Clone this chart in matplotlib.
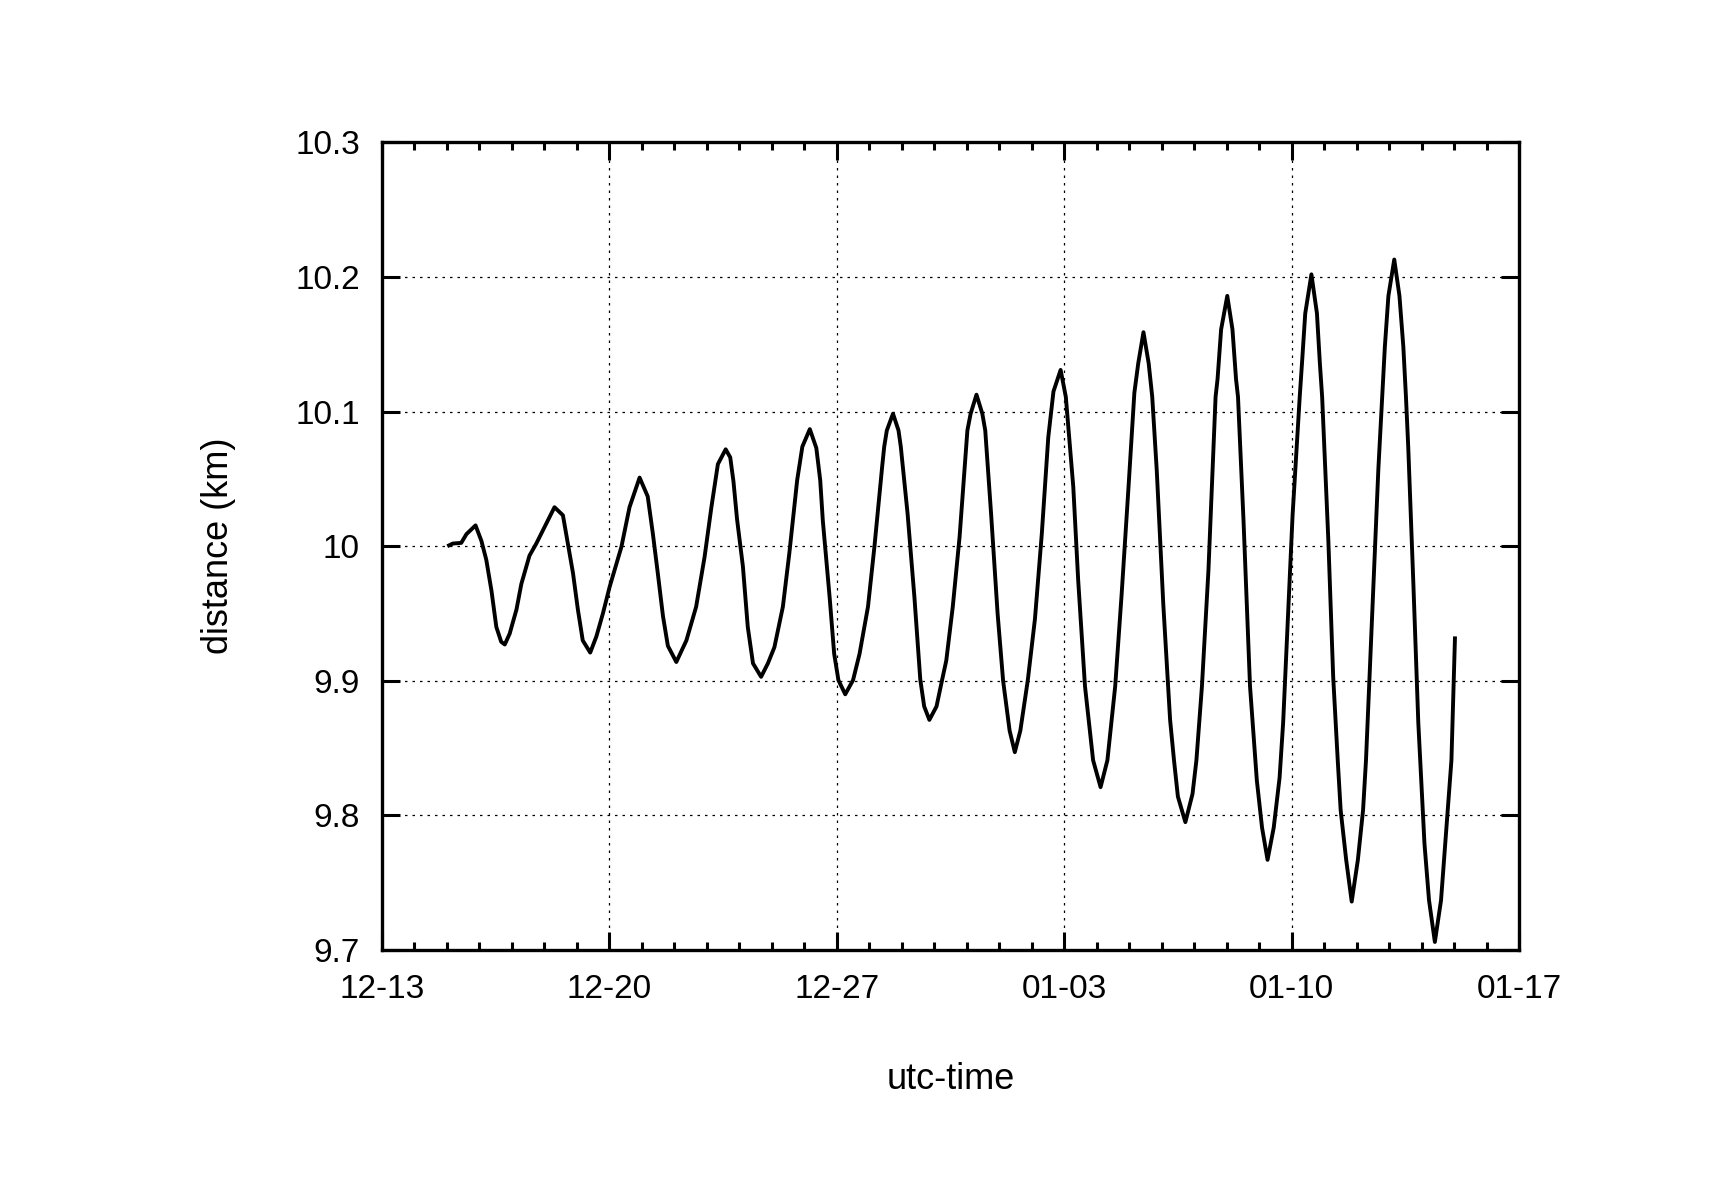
import matplotlib
matplotlib.use("Agg")
import matplotlib.pyplot as plt
import matplotlib.dates as mdates
from matplotlib.ticker import FuncFormatter
import pandas as pd

# time axis starts 12-13 00:00; values are day offsets from there
start_date = "2010-12-13"
day_offset = [
    2.01, 2.18, 2.44, 2.60, 2.88, 3.06, 3.21, 3.37, 3.52, 3.67, 3.78, 3.93,
    4.14, 4.29, 4.54, 4.75, 5.06, 5.31, 5.57, 5.72, 5.88, 6.03, 6.18, 6.41,
    6.60, 6.80, 7.01, 7.37, 7.62, 7.93, 8.18, 8.34, 8.49, 8.65, 8.80, 9.06,
    9.37, 9.67, 9.93, 10.14, 10.34, 10.58, 10.72, 10.82, 10.93, 11.11, 11.26,
    11.42, 11.67, 11.88, 12.08, 12.34, 12.54, 12.78, 12.94, 13.17, 13.37,
    13.49, 13.57, 13.78, 13.92, 14.05, 14.26, 14.50, 14.70, 14.96, 15.16,
    15.40, 15.46, 15.54, 15.73, 15.90, 15.97, 16.18, 16.39, 16.57, 16.69,
    16.85, 17.07, 17.24, 17.37, 17.57, 17.78, 18.02, 18.12, 18.30, 18.48,
    18.57, 18.75, 18.95, 19.12, 19.32, 19.48, 19.65, 19.88, 20.10, 20.31,
    20.51, 20.67, 20.89, 21.05, 21.28, 21.43, 21.64, 21.89, 22.12, 22.33,
    22.57, 22.77, 22.98, 23.16, 23.28, 23.44, 23.60, 23.71, 23.85, 24.05,
    24.26, 24.38, 24.50, 24.73, 24.95, 25.07, 25.24, 25.44, 25.66, 25.72,
    25.83, 26.02, 26.18, 26.29, 26.35, 26.52, 26.72, 26.93, 27.09, 27.26,
    27.45, 27.63, 27.74, 27.90, 28.03, 28.25, 28.32, 28.42, 28.61, 28.78,
    28.87, 28.94, 29.13, 29.28, 29.42, 29.51, 29.68, 29.85, 30.04, 30.20,
    30.29, 30.46, 30.67, 30.79, 30.87, 30.98, 31.16, 31.32, 31.44, 31.52,
    31.59, 31.75, 31.90, 32.09, 32.23, 32.41, 32.60, 32.73, 32.92, 33.03,
]
distance_km = [
    10.000, 10.002, 10.0025, 10.009, 10.0155, 10.004, 9.990, 9.967, 9.940, 9.929, 9.927, 9.935,
    9.953, 9.972, 9.993, 10.002, 10.017, 10.029, 10.023, 10.002, 9.980, 9.953, 9.930, 9.921,
    9.933, 9.950, 9.970, 9.9995, 10.029, 10.051, 10.037, 10.009, 9.980, 9.948, 9.926, 9.914,
    9.930, 9.955, 9.992, 10.029, 10.061, 10.072, 10.066, 10.048, 10.020, 9.985, 9.940,
    9.913, 9.903, 9.913, 9.925, 9.955, 9.995, 10.049, 10.074, 10.087, 10.073,
    10.049, 10.019, 9.962, 9.920, 9.9005, 9.890, 9.9005, 9.920, 9.955, 10.000,
    10.060, 10.074, 10.086, 10.0985, 10.086, 10.074, 10.024, 9.962, 9.901, 9.881,
    9.871, 9.881, 9.9005, 9.915, 9.955, 10.007, 10.086, 10.0985, 10.1126, 10.0985,
    10.086, 10.024, 9.950, 9.900, 9.863, 9.847, 9.863, 9.9005, 9.946, 10.009,
    10.081, 10.115, 10.131, 10.111, 10.044, 9.975, 9.896, 9.841, 9.821, 9.841,
    9.896, 9.965, 10.044, 10.114, 10.136, 10.159, 10.136, 10.111, 10.056, 9.957,
    9.871, 9.841, 9.814, 9.795, 9.816, 9.841, 9.896, 9.982, 10.111, 10.124,
    10.161, 10.186, 10.161, 10.124, 10.111, 10.019, 9.896, 9.826, 9.791, 9.767,
    9.791, 9.828, 9.869, 9.954, 10.023, 10.111, 10.136, 10.173, 10.202, 10.173,
    10.136, 10.111, 10.005, 9.903, 9.841, 9.804, 9.767, 9.736, 9.767, 9.804,
    9.841, 9.937, 10.057, 10.111, 10.148, 10.186, 10.213, 10.186, 10.148, 10.111,
    10.074, 9.971, 9.869, 9.779, 9.737, 9.706, 9.737, 9.779, 9.841, 9.933,
]
major_tick_days = [0, 7, 14, 21, 28, 35]
y_ticks = [9.7, 9.8, 9.9, 10.0, 10.1, 10.2, 10.3]

plt.rcParams['font.family'] = ['Liberation Sans', 'DejaVu Sans']

base = pd.Timestamp(start_date)
times = base + pd.to_timedelta(day_offset, unit='D')
major_ticks = base + pd.to_timedelta(major_tick_days, unit='D')

fig = plt.figure(figsize=(17.16, 12), dpi=100)
ax = fig.add_axes([0.2226, 0.2083, 0.6626, 0.673])

ax.plot(times, distance_km, color='black', lw=2.8, solid_joinstyle='round',
        solid_capstyle='butt')

ax.set_xlim(major_ticks[0], major_ticks[-1])
ax.set_ylim(9.7, 10.3)
ax.set_xticks(major_ticks)
ax.xaxis.set_minor_locator(mdates.DayLocator())
ax.xaxis.set_major_formatter(mdates.DateFormatter('%m-%d'))
ax.set_yticks(y_ticks)
ax.yaxis.set_major_formatter(FuncFormatter(lambda v, p: '%g' % round(v, 3)))

ax.grid(True, which='major', color='black', lw=0.9, linestyle=(0, (2, 4)))
ax.tick_params(which='both', direction='in', top=True, right=True,
               labelsize=24, width=2.2, color='black')
ax.tick_params(which='major', length=13)
ax.tick_params(which='minor', length=6)
ax.tick_params(axis='x', which='major', pad=17)
ax.tick_params(axis='y', which='major', pad=16)
for s in ax.spines.values():
    s.set_linewidth(2.4)

ax.set_xlabel('utc-time', fontsize=26, labelpad=41)
ax.set_ylabel('distance (km)', fontsize=26, labelpad=42.5)

fig.savefig('out.png', dpi=100)
